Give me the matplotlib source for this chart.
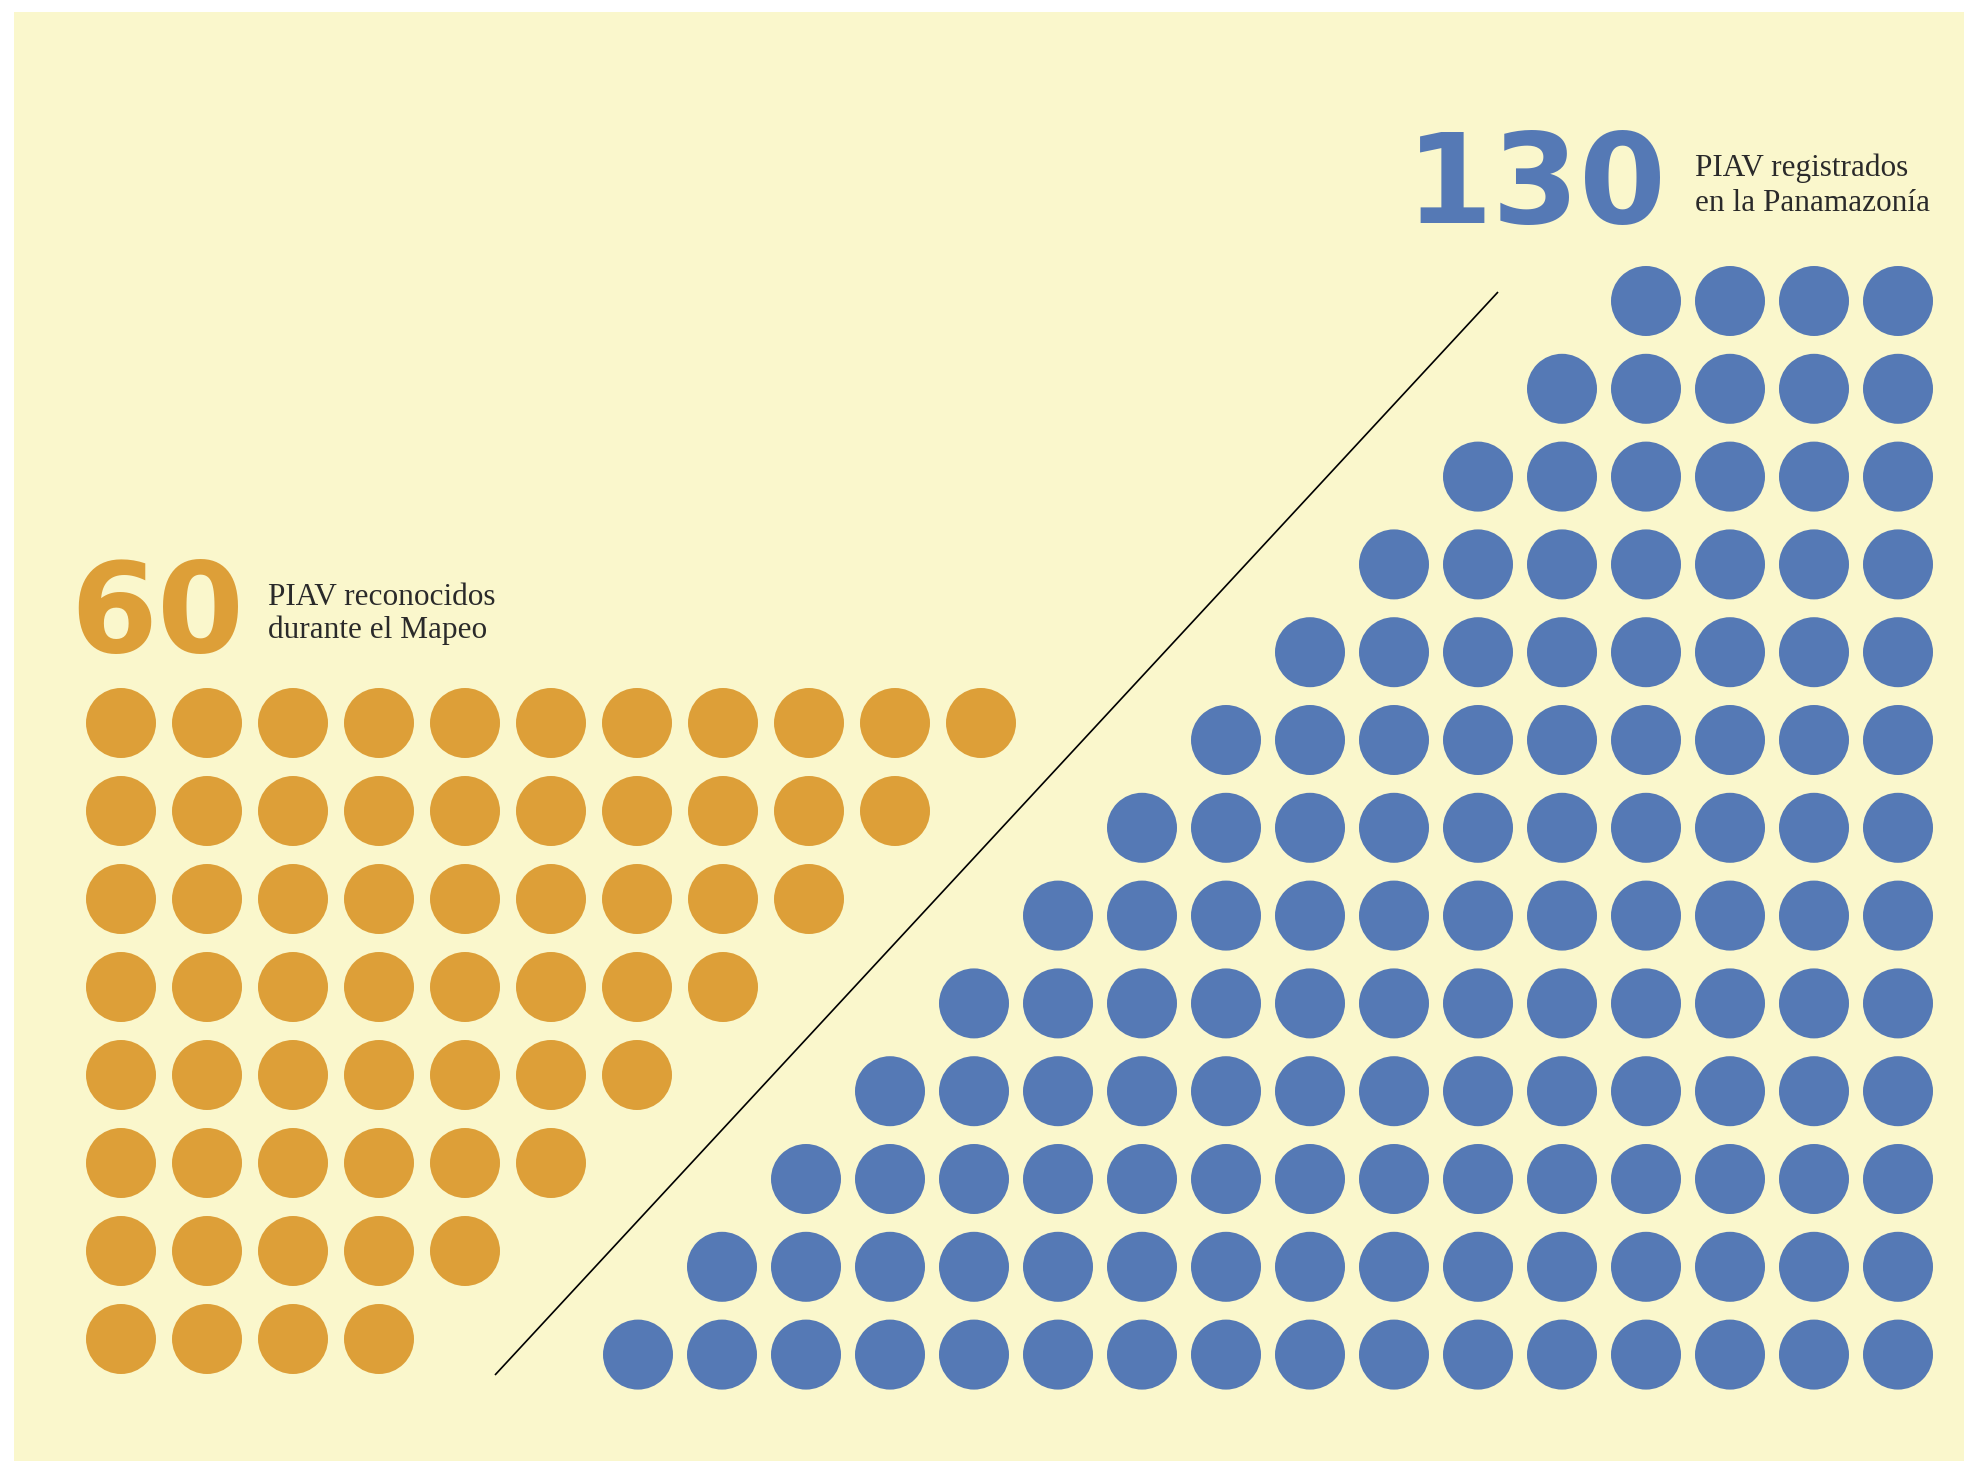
import matplotlib
matplotlib.use("Agg")
import matplotlib.pyplot as plt
from matplotlib.patches import Circle, Rectangle

# Data: dots per row (top to bottom)
orange_total = 60
orange_rows = [11, 10, 9, 8, 7, 6, 5, 4]
orange_lines = ["PIAV reconocidos", "durante el Mapeo"]

blue_total = 130
blue_rows = [4, 5, 6, 7, 8, 9, 10, 11, 12, 13, 14, 15, 16]
blue_lines = ["PIAV registrados", "en la Panamazonía"]

BG = "#FAF7CC"
ORANGE = "#DD9F38"
BLUE = "#5579B5"
TEXT = "#2a2a2a"

W, H = 1965, 1461
fig = plt.figure(figsize=(W / 100, H / 100), dpi=100)
ax = fig.add_axes([0, 0, 1, 1])
ax.set_xlim(0, W)
ax.set_ylim(H, 0)
ax.axis("off")

ax.add_patch(Rectangle((14, 12), W - 14, H - 12, facecolor=BG, edgecolor="none"))

radius = 35

# orange block, rows aligned left
ox, oy = 121, 723
odx, ody = 86, 88
for i, n in enumerate(orange_rows):
    for j in range(n):
        ax.add_patch(Circle((ox + j * odx, oy + i * ody), radius,
                            facecolor=ORANGE, edgecolor="none"))

# blue block, rows aligned right
bx_right, by = 1898, 301
bdx, bdy = 84, 87.8
for i, n in enumerate(blue_rows):
    for j in range(n):
        ax.add_patch(Circle((bx_right - j * bdx, by + i * bdy), radius,
                            facecolor=BLUE, edgecolor="none"))

# diagonal divider
ax.plot([495, 1498], [1375, 292], color="black", lw=1.2, solid_capstyle="butt")

# big numbers
big = dict(family="DejaVu Sans", fontweight="bold", fontsize=90, va="baseline", ha="left")
ax.text(1406, 223, str(blue_total), color=BLUE, **big)
ax.text(70, 652, str(orange_total), color=ORANGE, **big)

# labels
small = dict(family="Liberation Serif", fontsize=22.5, va="baseline", ha="left", color=TEXT)
for k, line in enumerate(blue_lines):
    ax.text(1695, 176 + k * 35, line, **small)
for k, line in enumerate(orange_lines):
    ax.text(268, 605 + k * 33, line, **small)

fig.savefig("out.png", dpi=100, facecolor="white")
